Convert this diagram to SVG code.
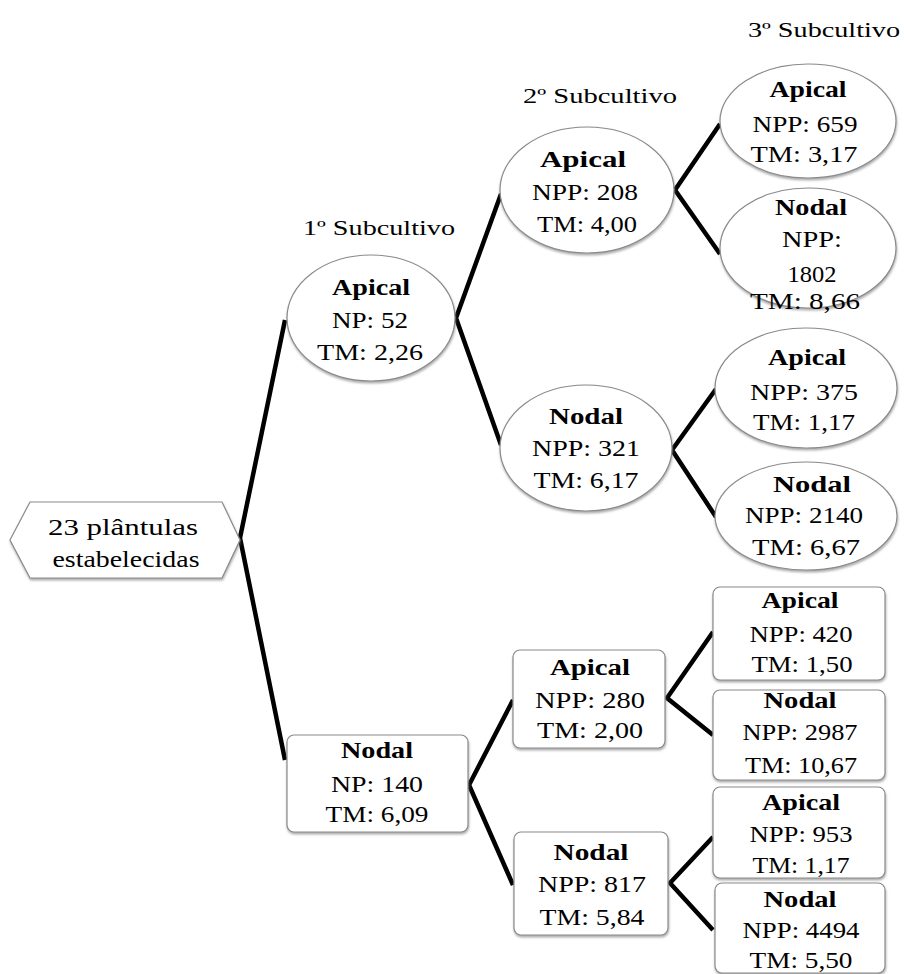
<svg xmlns="http://www.w3.org/2000/svg" width="904" height="974" viewBox="0 0 904 974">
<defs>
<filter id="sh" x="-10%" y="-10%" width="120%" height="130%">
<feDropShadow dx="0.5" dy="2" stdDeviation="1" flood-color="#777" flood-opacity="0.6"/>
</filter>
<style>
.s{fill:#fff;stroke:#8a8a8a;stroke-width:1.2;filter:url(#sh)}
text{font-family:'Times New Roman','Liberation Serif',Tinos,serif;fill:#000;text-anchor:middle}
.t{font-size:24px}
.b{font-size:24px;font-weight:bold}
.lab{font-size:22px}
.c{fill:none;stroke:#000;stroke-width:4.5;stroke-linejoin:miter}
</style>
</defs>
<rect width="904" height="974" fill="#fff"/>
<g id="connectors">
<path class="c" d="M285 320 L240 538 L285 760"/>
<path class="c" d="M501 194 L456 318 L501 445"/>
<path class="c" d="M720 124 L675 190 L720 254"/>
<path class="c" d="M716 389 L672 450 L716 517"/>
<path class="c" d="M513 700 L469 785 L513 885"/>
<path class="c" d="M713 632 L667 698 L713 735"/>
<path class="c" d="M713 837 L670 883 L713 930"/>
</g>
<g id="labels">
<text class="lab" x="379" y="235" textLength="152" lengthAdjust="spacingAndGlyphs">1º Subcultivo</text>
<text class="lab" x="600" y="103" textLength="154" lengthAdjust="spacingAndGlyphs">2º Subcultivo</text>
<text class="lab" x="824" y="37" textLength="152" lengthAdjust="spacingAndGlyphs">3º Subcultivo</text>
</g>
<g id="root">
<polygon class="s" points="10,540 30,502 222,502 240,540 222,578 30,578"/>
<text class="t" x="123" y="535" textLength="150" lengthAdjust="spacingAndGlyphs">23 plântulas</text>
<text class="t" x="126" y="567" textLength="147" lengthAdjust="spacingAndGlyphs">estabelecidas</text>
</g>
<g id="apical1">
<ellipse class="s" cx="371" cy="318" rx="84" ry="63"/>
<text class="b" x="371" y="295" textLength="78" lengthAdjust="spacingAndGlyphs">Apical</text>
<text class="t" x="370" y="328" textLength="76" lengthAdjust="spacingAndGlyphs">NP: 52</text>
<text class="t" x="370" y="360" textLength="106" lengthAdjust="spacingAndGlyphs">TM: 2,26</text>
</g>
<g id="nodal1">
<rect class="s" x="287" y="735" width="181" height="97" rx="7"/>
<text class="b" x="377" y="758" textLength="72" lengthAdjust="spacingAndGlyphs">Nodal</text>
<text class="t" x="377" y="792" textLength="92" lengthAdjust="spacingAndGlyphs">NP: 140</text>
<text class="t" x="377" y="822" textLength="103" lengthAdjust="spacingAndGlyphs">TM: 6,09</text>
</g>
<g id="apical2a">
<ellipse class="s" cx="587" cy="190" rx="87" ry="63"/>
<text class="b" x="583" y="167" textLength="86" lengthAdjust="spacingAndGlyphs">Apical</text>
<text class="t" x="585" y="200" textLength="106" lengthAdjust="spacingAndGlyphs">NPP: 208</text>
<text class="t" x="587" y="232" textLength="100" lengthAdjust="spacingAndGlyphs">TM: 4,00</text>
</g>
<g id="nodal2a">
<ellipse class="s" cx="586" cy="448" rx="86" ry="63"/>
<text class="b" x="586" y="424" textLength="74" lengthAdjust="spacingAndGlyphs">Nodal</text>
<text class="t" x="586" y="456" textLength="108" lengthAdjust="spacingAndGlyphs">NPP: 321</text>
<text class="t" x="586" y="488" textLength="105" lengthAdjust="spacingAndGlyphs">TM: 6,17</text>
</g>
<g id="apical3a">
<ellipse class="s" cx="808" cy="121" rx="88" ry="57"/>
<text class="b" x="808" y="97" textLength="77" lengthAdjust="spacingAndGlyphs">Apical</text>
<text class="t" x="805" y="132" textLength="105" lengthAdjust="spacingAndGlyphs">NPP: 659</text>
<text class="t" x="804" y="162" textLength="107" lengthAdjust="spacingAndGlyphs">TM: 3,17</text>
</g>
<g id="nodal3a">
<ellipse class="s" cx="808" cy="248" rx="88" ry="60"/>
<text class="b" x="811" y="215" textLength="72" lengthAdjust="spacingAndGlyphs">Nodal</text>
<text class="t" x="812" y="247" textLength="60" lengthAdjust="spacingAndGlyphs">NPP:</text>
<text class="t" x="812" y="282" textLength="49" lengthAdjust="spacingAndGlyphs">1802</text>
<text class="t" x="805" y="309" textLength="110" lengthAdjust="spacingAndGlyphs">TM: 8,66</text>
</g>
<g id="apical3b">
<ellipse class="s" cx="806" cy="388" rx="91" ry="60"/>
<text class="b" x="807" y="365" textLength="78" lengthAdjust="spacingAndGlyphs">Apical</text>
<text class="t" x="804" y="400" textLength="108" lengthAdjust="spacingAndGlyphs">NPP: 375</text>
<text class="t" x="804" y="430" textLength="102" lengthAdjust="spacingAndGlyphs">TM: 1,17</text>
</g>
<g id="nodal3b">
<ellipse class="s" cx="806" cy="516" rx="91" ry="54"/>
<text class="b" x="812" y="492" textLength="78" lengthAdjust="spacingAndGlyphs">Nodal</text>
<text class="t" x="804" y="523" textLength="118" lengthAdjust="spacingAndGlyphs">NPP: 2140</text>
<text class="t" x="806" y="555" textLength="108" lengthAdjust="spacingAndGlyphs">TM: 6,67</text>
</g>
<g id="apical2b">
<rect class="s" x="513" y="650" width="152" height="98" rx="7"/>
<text class="b" x="590" y="675" textLength="80" lengthAdjust="spacingAndGlyphs">Apical</text>
<text class="t" x="590" y="708" textLength="110" lengthAdjust="spacingAndGlyphs">NPP: 280</text>
<text class="t" x="590" y="738" textLength="106" lengthAdjust="spacingAndGlyphs">TM: 2,00</text>
</g>
<g id="nodal2b">
<rect class="s" x="514" y="832" width="154" height="103" rx="7"/>
<text class="b" x="591" y="860" textLength="75" lengthAdjust="spacingAndGlyphs">Nodal</text>
<text class="t" x="592" y="892" textLength="108" lengthAdjust="spacingAndGlyphs">NPP: 817</text>
<text class="t" x="592" y="925" textLength="105" lengthAdjust="spacingAndGlyphs">TM: 5,84</text>
</g>
<g id="apical3c">
<rect class="s" x="713" y="587" width="172" height="93" rx="7"/>
<text class="b" x="800" y="608" textLength="77" lengthAdjust="spacingAndGlyphs">Apical</text>
<text class="t" x="801" y="642" textLength="103" lengthAdjust="spacingAndGlyphs">NPP: 420</text>
<text class="t" x="802" y="672" textLength="101" lengthAdjust="spacingAndGlyphs">TM: 1,50</text>
</g>
<g id="nodal3c">
<rect class="s" x="713" y="690" width="172" height="90" rx="7"/>
<text class="b" x="800" y="708" textLength="73" lengthAdjust="spacingAndGlyphs">Nodal</text>
<text class="t" x="800" y="740" textLength="115" lengthAdjust="spacingAndGlyphs">NPP: 2987</text>
<text class="t" x="801" y="773" textLength="112" lengthAdjust="spacingAndGlyphs">TM: 10,67</text>
</g>
<g id="apical3d">
<rect class="s" x="713" y="787" width="172" height="91" rx="7"/>
<text class="b" x="801" y="810" textLength="78" lengthAdjust="spacingAndGlyphs">Apical</text>
<text class="t" x="801" y="842" textLength="103" lengthAdjust="spacingAndGlyphs">NPP: 953</text>
<text class="t" x="801" y="873" textLength="97" lengthAdjust="spacingAndGlyphs">TM: 1,17</text>
</g>
<g id="nodal3d">
<rect class="s" x="715" y="883" width="170" height="90" rx="7"/>
<text class="b" x="800" y="907" textLength="73" lengthAdjust="spacingAndGlyphs">Nodal</text>
<text class="t" x="801" y="938" textLength="117" lengthAdjust="spacingAndGlyphs">NPP: 4494</text>
<text class="t" x="801" y="968" textLength="103" lengthAdjust="spacingAndGlyphs">TM: 5,50</text>
</g>
</svg>
